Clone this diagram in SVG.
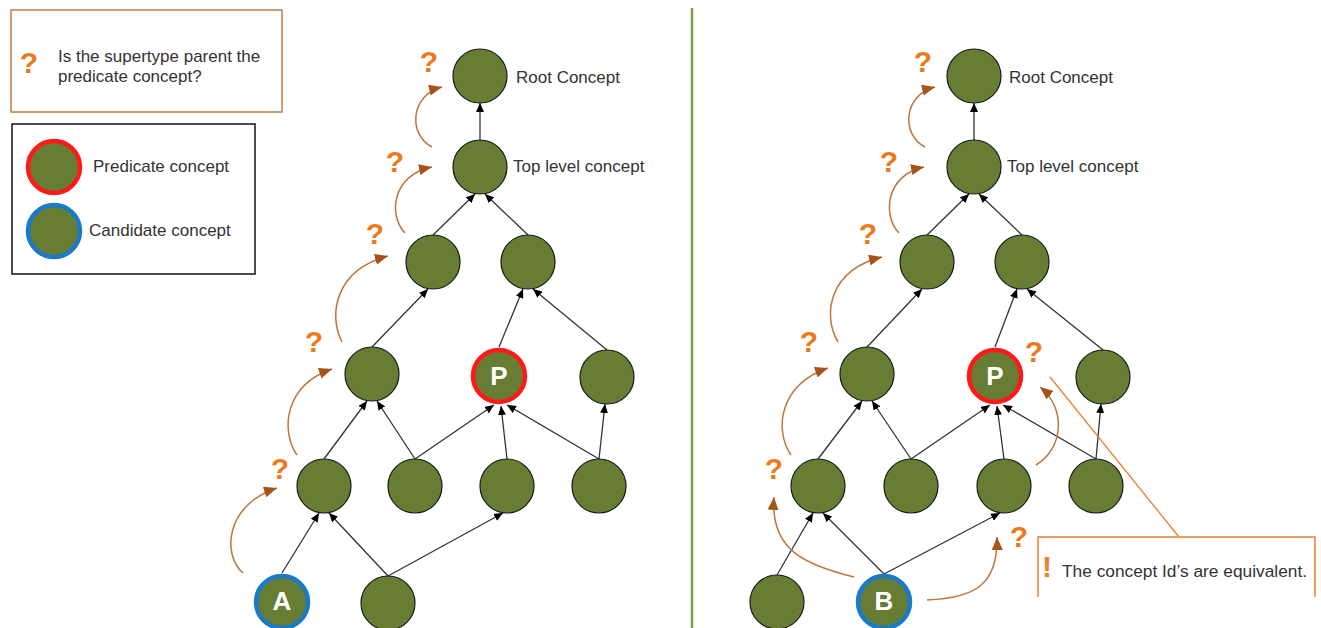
<svg xmlns="http://www.w3.org/2000/svg" width="1321" height="628" viewBox="0 0 1321 628">
<style>
.node{fill:#667d33;stroke:#1a1a1a;stroke-width:1.2}
.pred{fill:#667d33;stroke:#ff1a1a;stroke-width:4.5}
.cand{fill:#667d33;stroke:#1a7ac6;stroke-width:4.5}
.edge{stroke:#333;stroke-width:1.3;fill:none;marker-end:url(#ah)}
.q{stroke:#bf743a;stroke-width:1.5;fill:none;marker-end:url(#oh)}
.lbl{font-family:"Liberation Sans",Arial,sans-serif;font-size:17px;fill:#333}
.qm{font-family:"Liberation Sans",Arial,sans-serif;font-size:30px;font-weight:bold;fill:#ec7a1c;text-anchor:middle}
.let{font-family:"Liberation Sans",Arial,sans-serif;font-size:26px;font-weight:bold;fill:#fff;text-anchor:middle}
</style>
<defs>
<marker id="ah" markerUnits="userSpaceOnUse" markerWidth="9" markerHeight="8" refX="9" refY="4" orient="auto"><path d="M0,0 L9,4 L0,8 z" fill="#000"/></marker>
<marker id="oh" markerUnits="userSpaceOnUse" markerWidth="13" markerHeight="11" refX="13" refY="5.5" orient="auto"><path d="M0,0 L13,5.5 L0,11 z" fill="#a5531a"/></marker>
</defs>
<rect width="1321" height="628" fill="#fff"/>

<g id="question-box">
<rect x="11" y="10" width="271" height="102" fill="#fff" stroke="#bf7d48" stroke-width="1.5"/>
<text class="qm" x="29" y="73">?</text>
<text class="lbl" x="58" y="62">Is the supertype parent the</text>
<text class="lbl" x="58" y="82">predicate concept?</text>
</g>

<g id="legend">
<rect x="12" y="124" width="243" height="150" fill="#fff" stroke="#111" stroke-width="1.5"/>
<circle class="pred" cx="54" cy="167" r="26"/>
<text class="lbl" x="93" y="172">Predicate concept</text>
<circle class="cand" cx="54" cy="231" r="26"/>
<text class="lbl" x="89" y="236">Candidate concept</text>
</g>

<line id="divider" x1="692" y1="8" x2="692" y2="628" stroke="#7fa34a" stroke-width="2.5"/>

<g id="connectors">
<!-- left tree -->
<line class="edge" x1="480" y1="140" x2="480" y2="103"/>
<line class="edge" x1="433" y1="235" x2="475" y2="194"/>
<line class="edge" x1="528" y1="235" x2="485" y2="194"/>
<line class="edge" x1="372" y1="347" x2="428" y2="289"/>
<line class="edge" x1="499" y1="347" x2="523" y2="289"/>
<line class="edge" x1="607" y1="350" x2="533" y2="289"/>
<line class="edge" x1="324" y1="459" x2="367" y2="401"/>
<line class="edge" x1="415" y1="459" x2="377" y2="401"/>
<line class="edge" x1="415" y1="459" x2="494" y2="405"/>
<line class="edge" x1="507" y1="459" x2="501" y2="406"/>
<line class="edge" x1="599" y1="459" x2="507" y2="405"/>
<line class="edge" x1="599" y1="459" x2="605" y2="404"/>
<line class="edge" x1="282" y1="573" x2="319" y2="513"/>
<line class="edge" x1="388" y1="576" x2="329" y2="513"/>
<line class="edge" x1="388" y1="576" x2="503" y2="513"/>
<!-- left orange -->
<path class="q" d="M243,573 C222,555 225,505 277,488"/>
<path class="q" d="M297,455 C280,430 285,385 332,369"/>
<path class="q" d="M342,342 C328,315 335,270 388,256"/>
<path class="q" d="M405,233 C388,215 392,175 432,167"/>
<path class="q" d="M432,147 C408,135 410,95 442,87"/>
<!-- right tree -->
<line class="edge" x1="974" y1="140" x2="974" y2="103"/>
<line class="edge" x1="927" y1="235" x2="969" y2="194"/>
<line class="edge" x1="1022" y1="235" x2="979" y2="194"/>
<line class="edge" x1="867" y1="347" x2="922" y2="289"/>
<line class="edge" x1="995" y1="347" x2="1017" y2="289"/>
<line class="edge" x1="1103" y1="350" x2="1027" y2="289"/>
<line class="edge" x1="818" y1="459" x2="862" y2="401"/>
<line class="edge" x1="911" y1="459" x2="872" y2="401"/>
<line class="edge" x1="911" y1="459" x2="990" y2="405"/>
<line class="edge" x1="1004" y1="459" x2="997" y2="406"/>
<line class="edge" x1="1096" y1="459" x2="1003" y2="405"/>
<line class="edge" x1="1096" y1="459" x2="1101" y2="404"/>
<line class="edge" x1="777" y1="575" x2="813" y2="513"/>
<line class="edge" x1="884" y1="574" x2="823" y2="513"/>
<line class="edge" x1="884" y1="574" x2="1000" y2="513"/>
<!-- right orange -->
<path class="q" d="M925,147 C901,135 903,95 935,87"/>
<path class="q" d="M899,233 C882,215 886,175 924,167"/>
<path class="q" d="M838,342 C822,315 829,270 882,257"/>
<path class="q" d="M791,455 C774,430 779,385 828,368"/>
<path class="q" d="M854,577 C805,565 770,550 774,497"/>
<path class="q" d="M927,600 C975,598 998,585 997,537"/>
<path class="q" d="M1036,465 C1062,450 1068,410 1040,387"/>
</g>

<g id="left-tree">
<g id="L-root"><circle class="node" cx="480" cy="76" r="27"/><text class="lbl" x="516" y="83">Root Concept</text></g>
<g id="L-top"><circle class="node" cx="480" cy="167" r="27"/><text class="lbl" x="513" y="172">Top level concept</text></g>
<g id="L-2a"><circle class="node" cx="433" cy="262" r="27"/></g>
<g id="L-2b"><circle class="node" cx="528" cy="262" r="27"/></g>
<g id="L-3a"><circle class="node" cx="372" cy="374" r="27"/></g>
<g id="L-P"><circle class="pred" cx="499" cy="376" r="26"/><text class="let" x="499" y="385">P</text></g>
<g id="L-3c"><circle class="node" cx="607" cy="377" r="27"/></g>
<g id="L-4a"><circle class="node" cx="324" cy="486" r="27"/></g>
<g id="L-4b"><circle class="node" cx="415" cy="486" r="27"/></g>
<g id="L-4c"><circle class="node" cx="507" cy="486" r="27"/></g>
<g id="L-4d"><circle class="node" cx="599" cy="486" r="27"/></g>
<g id="L-A"><circle class="cand" cx="282" cy="602" r="26"/><text class="let" x="282" y="610">A</text></g>
<g id="L-5b"><circle class="node" cx="388" cy="603" r="27"/></g>
</g>

<g id="right-tree">
<g id="R-root"><circle class="node" cx="974" cy="76" r="27"/><text class="lbl" x="1009" y="83">Root Concept</text></g>
<g id="R-top"><circle class="node" cx="974" cy="167" r="27"/><text class="lbl" x="1007" y="172">Top level concept</text></g>
<g id="R-2a"><circle class="node" cx="927" cy="262" r="27"/></g>
<g id="R-2b"><circle class="node" cx="1022" cy="262" r="27"/></g>
<g id="R-3a"><circle class="node" cx="867" cy="374" r="27"/></g>
<g id="R-P"><circle class="pred" cx="995" cy="376" r="26"/><text class="let" x="995" y="385">P</text></g>
<g id="R-3c"><circle class="node" cx="1103" cy="377" r="27"/></g>
<g id="R-4a"><circle class="node" cx="818" cy="486" r="27"/></g>
<g id="R-4b"><circle class="node" cx="911" cy="486" r="27"/></g>
<g id="R-4c"><circle class="node" cx="1004" cy="486" r="27"/></g>
<g id="R-4d"><circle class="node" cx="1096" cy="486" r="27"/></g>
<g id="R-5a"><circle class="node" cx="777" cy="602" r="27"/></g>
<g id="R-B"><circle class="cand" cx="884" cy="602" r="26"/><text class="let" x="884" y="610">B</text></g>
</g>

<g id="question-marks">
<text class="qm" x="429" y="72">?</text>
<text class="qm" x="395" y="172">?</text>
<text class="qm" x="375" y="244">?</text>
<text class="qm" x="314" y="352">?</text>
<text class="qm" x="280" y="479">?</text>
<text class="qm" x="923" y="72">?</text>
<text class="qm" x="889" y="172">?</text>
<text class="qm" x="868" y="244">?</text>
<text class="qm" x="809" y="352">?</text>
<text class="qm" x="774" y="479">?</text>
<text class="qm" x="1034" y="362">?</text>
<text class="qm" x="1019" y="547">?</text>
</g>

<g id="callout">
<line x1="1179" y1="537" x2="1050" y2="377" stroke="#ed7d31" stroke-width="1.3"/>
<path d="M1038,597 L1038,537 L1315,537 L1315,597" fill="#fff" stroke="#ed7d31" stroke-width="1.5"/>
<text class="qm" x="1047" y="577" style="fill:#ed7d31">!</text>
<text x="1062" y="577" font-family="'Liberation Sans',Arial,sans-serif" font-size="16" fill="#333" textLength="245" lengthAdjust="spacingAndGlyphs">The concept Id’s are equivalent.</text>
</g>
</svg>
